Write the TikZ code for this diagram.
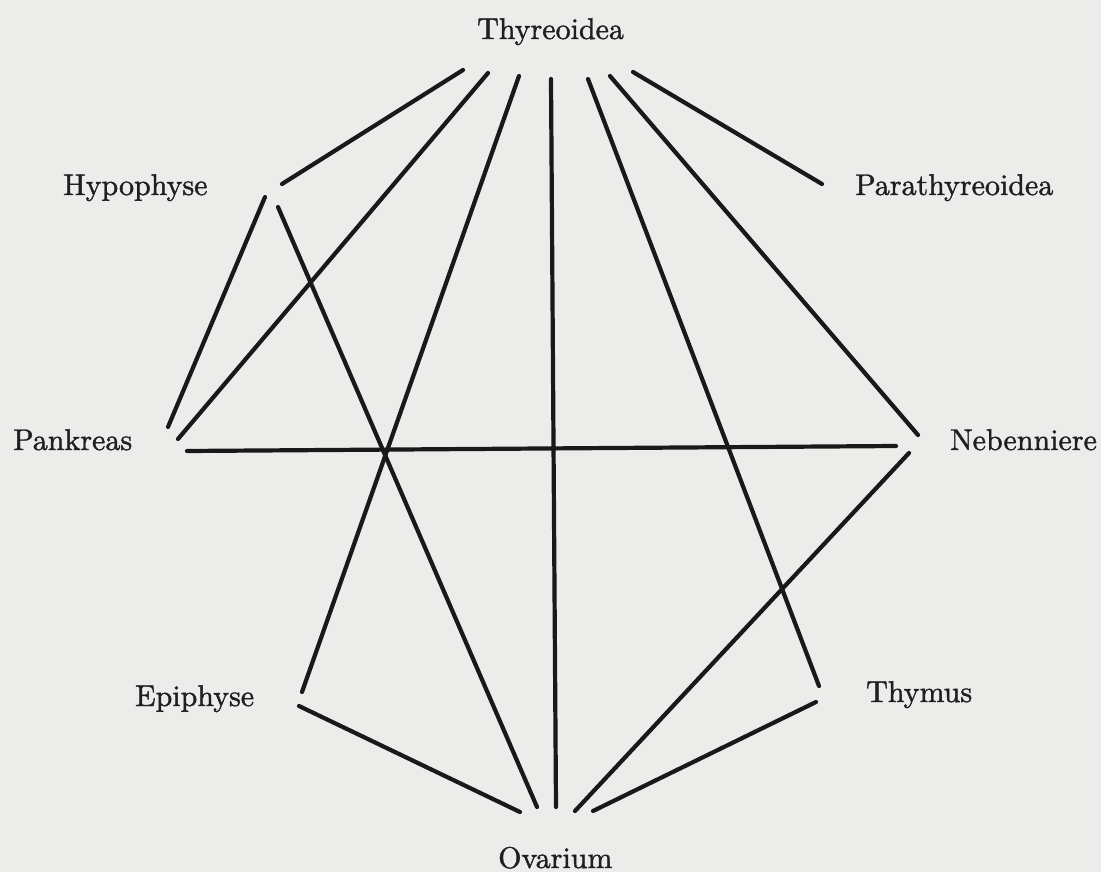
\documentclass[tikz,border=0pt]{standalone}
\usepackage{fontspec}
\newfontfamily\glandfont{lmroman10-regular.otf}[FakeBold=1.3]
\begin{document}
\begin{tikzpicture}[x=1pt,y=-1pt,
  gland/.style={anchor=base west,inner sep=0pt,font=\glandfont\fontsize{30}{36}\selectfont,text=black!88},
  link/.style={line width=4.2pt,line cap=round,draw=black!90}]
\definecolor{paper}{RGB}{236,236,234}
\fill[paper] (0,0) rectangle (1101,872);
\useasboundingbox (0,0) rectangle (1101,872);
% labels
\node[gland] (thy) at (477,39) {Thyreoidea};
\node[gland] (hyp) at (63,195) {Hypophyse};
\node[gland] (par) at (855,195) {Parathyreoidea};
\node[gland] (pan) at (13,450) {Pankreas};
\node[gland] (neb) at (950,450) {Nebenniere};
\node[gland] (epi) at (135,706) {Epiphyse};
\node[gland] (tym) at (866,702) {Thymus};
\node[gland] (ova) at (498,868) {Ovarium};
% endpoints
\coordinate (thy1) at (463,70);  \coordinate (hyp1) at (282,184);
\coordinate (thy2) at (488,73);  \coordinate (pan1) at (178,439);
\coordinate (thy3) at (519,76);  \coordinate (epi1) at (302,692);
\coordinate (thy4) at (551,79);  \coordinate (ova1) at (556,807);
\coordinate (thy5) at (588,79);  \coordinate (tym1) at (819,686);
\coordinate (thy6) at (610,76);  \coordinate (neb1) at (918,435);
\coordinate (thy7) at (633,72);  \coordinate (par1) at (822,184);
\coordinate (hyp2) at (265,197); \coordinate (pan2) at (168,427);
\coordinate (hyp3) at (278,207); \coordinate (ova2) at (537,807);
\coordinate (pan3) at (187,451); \coordinate (neb2) at (896,446);
\coordinate (neb3) at (909,453); \coordinate (ova3) at (575,811);
\coordinate (tym2) at (816,702); \coordinate (ova4) at (593,811);
\coordinate (epi2) at (299,706); \coordinate (ova5) at (520,812);
% connectors
\draw[link] (thy1) -- (hyp1);
\draw[link] (thy2) -- (pan1);
\draw[link] (thy3) -- (epi1);
\draw[link] (thy4) -- (ova1);
\draw[link] (thy5) -- (tym1);
\draw[link] (thy6) -- (neb1);
\draw[link] (thy7) -- (par1);
\draw[link] (hyp2) -- (pan2);
\draw[link] (hyp3) -- (ova2);
\draw[link] (pan3) -- (neb2);
\draw[link] (neb3) -- (ova3);
\draw[link] (tym2) -- (ova4);
\draw[link] (epi2) -- (ova5);
\end{tikzpicture}
\end{document}
